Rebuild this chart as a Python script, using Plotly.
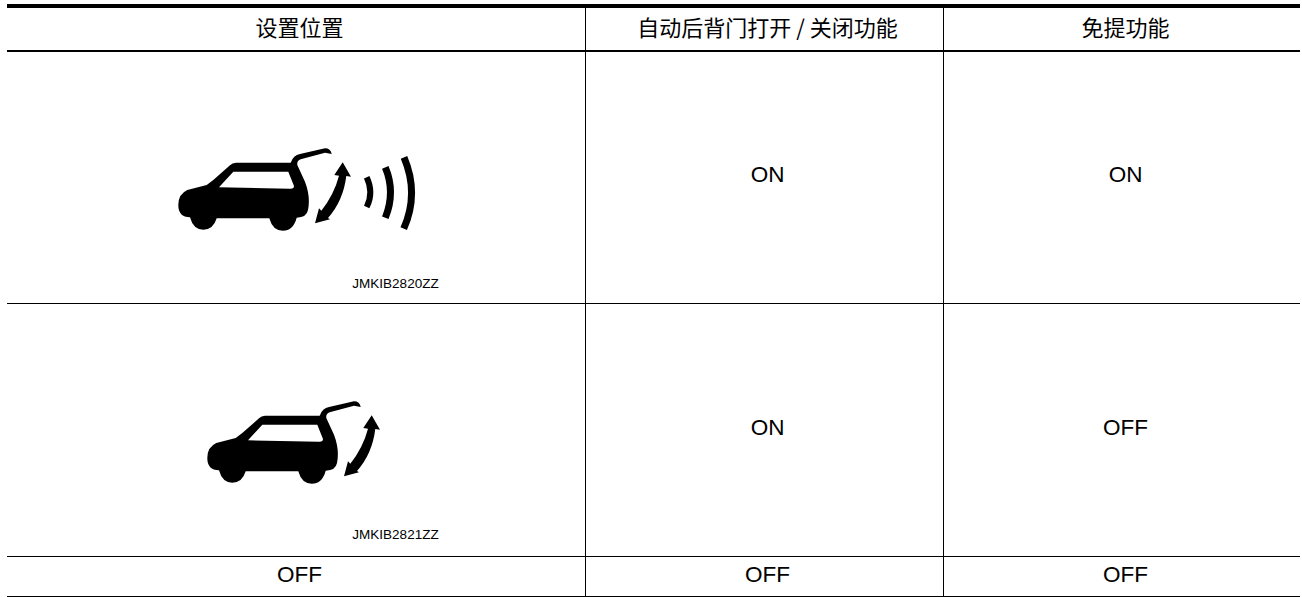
import plotly.graph_objects as go

# table content
headers = ["设置位置", "自动后背门打开 / 关闭功能", "免提功能"]
col_auto = ["ON", "ON", "OFF"]
col_free = ["ON", "OFF", "OFF"]
row3_label = "OFF"
codes = ["JMKIB2820ZZ", "JMKIB2821ZZ"]

# table geometry (px on a page-sized axis)
LEFT, RIGHT = 7, 1300
COL_EDGES = [585.5, 943.5]
COL_CENTERS = [299.5, 767.5, 1125.5]
CJK = "Noto Sans CJK SC, Liberation Sans, sans-serif"
LAT = "Liberation Sans, Arial, sans-serif"


def seg(x0, y0, x1, y1, w):
    return dict(type="line", xref="x", yref="y", x0=x0, y0=y0, x1=x1, y1=y1,
                line=dict(color="#000", width=w), layer="above")


shapes = [
    seg(LEFT, 6, RIGHT, 6, 4),
    seg(LEFT, 51, RIGHT, 51, 2),
    seg(LEFT, 303.5, RIGHT, 303.5, 1),
    seg(LEFT, 556.5, RIGHT, 556.5, 1),
    seg(LEFT, 596.5, RIGHT, 596.5, 1),
]
for cx in COL_EDGES:
    shapes.append(seg(cx, 8, cx, 596, 1))


def tr(pts, dx, dy):
    return [(p[0] / 3 + dx, p[1] / 3 + dy) for p in pts]


def fmt(p):
    return f"{p[0]:.1f},{p[1]:.1f}"


def poly_path(cmds, dx, dy):
    out = []
    for c, pts in cmds:
        pts = tr(pts, dx, dy)
        if c == "L":
            out += ["L" + fmt(p) for p in pts]
        else:
            out.append(c + " ".join(fmt(p) for p in pts))
    return " ".join(out) + " Z"


CAR = [
    ("M", [(85, 225)]),
    ("Q", [(85, 192), (112, 180)]),
    ("L", [(170, 165), (190, 150), (240, 106)]),
    ("Q", [(247, 98), (258, 98)]),
    ("L", [(422, 98)]),
    ("Q", [(430, 75), (450, 72)]),
    ("L", [(525, 55)]),
    ("Q", [(542, 55), (545, 72)]),
    ("L", [(525, 68), (452, 88)]),
    ("Q", [(440, 92), (442, 105)]),
    ("L", [(465, 155)]),
    ("Q", [(482, 200), (474, 240)]),
    ("Q", [(470, 262), (440, 263)]),
    ("Q", [(430, 302), (398, 302)]),
    ("Q", [(368, 302), (358, 265)]),
    ("L", [(200, 265)]),
    ("Q", [(190, 299), (160, 299)]),
    ("Q", [(130, 299), (120, 262)]),
    ("Q", [(85, 262), (85, 225)]),
]
WINDOW = [
    ("M", [(207, 172)]),
    ("L", [(250, 125), (415, 125), (432, 168)]),
    ("Q", [(432, 177), (420, 176)]),
    ("L", [(207, 172)]),
]
ARROW = [
    ("M", [(553, 135)]),
    ("L", [(578, 97), (603, 140), (589, 138)]),
    ("Q", [(580, 212), (534, 264)]),
    ("L", [(540, 268), (495, 280), (507, 235), (514, 242)]),
    ("Q", [(552, 194), (567, 137)]),
]
WAVES = [
    ((650, 142), (672, 188), (650, 231), 6),
    ((706, 112), (737, 186), (706, 263), 7),
    ((762, 82), (808, 190), (761, 296), 7),
]


def icon(dx, dy, waves):
    s = [
        dict(type="path", xref="x", yref="y", path=poly_path(CAR, dx, dy),
             fillcolor="#000", line=dict(width=0)),
        dict(type="path", xref="x", yref="y", path=poly_path(WINDOW, dx, dy),
             fillcolor="#fff", line=dict(width=0)),
        dict(type="path", xref="x", yref="y", path=poly_path(ARROW, dx, dy),
             fillcolor="#000", line=dict(width=0)),
    ]
    if waves:
        for a, b, c, w in WAVES:
            (p, q, r) = tr([a, b, c], dx, dy)
            s.append(dict(type="path", xref="x", yref="y",
                          path=f"M{fmt(p)} Q{fmt(q)} {fmt(r)}",
                          line=dict(color="#000", width=w)))
    return s


shapes += icon(150, 130, True)
shapes += icon(179, 383, False)

ROW_Y = [176.5, 429, 576.5]
HEADER_Y = 30.5

fig = go.Figure()
fig.add_trace(go.Scatter(
    x=COL_CENTERS, y=[HEADER_Y] * 3, text=headers, mode="text",
    textposition="middle center",
    textfont=dict(family=CJK, size=22, color="#000"), hoverinfo="skip"))
fig.add_trace(go.Scatter(
    x=[COL_CENTERS[1]] * 3 + [COL_CENTERS[2]] * 3 + [COL_CENTERS[0]],
    y=ROW_Y + ROW_Y + [ROW_Y[2]],
    text=col_auto + col_free + [row3_label], mode="text",
    textposition="middle center",
    textfont=dict(family=LAT, size=22.5, color="#000"), hoverinfo="skip"))
fig.add_trace(go.Scatter(
    x=[395.5, 395.5], y=[285, 536], text=codes, mode="text",
    textposition="middle center",
    textfont=dict(family=LAT, size=13.5, color="#000"), hoverinfo="skip"))

fig.update_layout(
    width=1302, height=597, autosize=False, showlegend=False,
    margin=dict(l=0, r=0, t=0, b=0),
    paper_bgcolor="#fff", plot_bgcolor="#fff", shapes=shapes,
    xaxis=dict(range=[0, 1302], visible=False, fixedrange=True),
    yaxis=dict(range=[597, 0], visible=False, fixedrange=True),
)
fig.write_html("out.html", config={"displayModeBar": False},
               post_script="document.body.style.margin='0';")
